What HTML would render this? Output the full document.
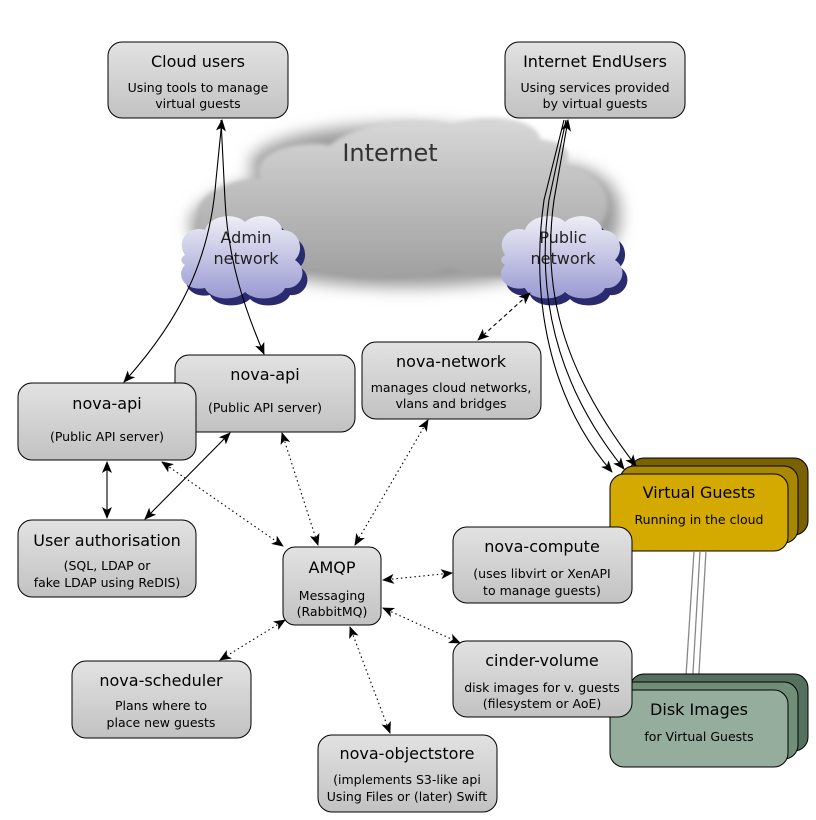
<!DOCTYPE html>
<html><head><meta charset="utf-8"><style>html,body{margin:0;padding:0;background:#fff}svg{display:block}</style></head><body>
<svg width="816" height="820" viewBox="0 0 816 820" xmlns="http://www.w3.org/2000/svg" font-family="'DejaVu Sans','Liberation Sans',sans-serif">
<defs>
<linearGradient id="g" x1="0" y1="0" x2="0" y2="1"><stop offset="0" stop-color="#e2e2e2"/><stop offset="1" stop-color="#c2c2c2"/></linearGradient>
<linearGradient id="inet" x1="0" y1="0" x2="0" y2="1"><stop offset="0" stop-color="#d8d8d8"/><stop offset="1" stop-color="#a0a0a0"/></linearGradient>
<linearGradient id="cl" x1="0" y1="0" x2="0" y2="1"><stop offset="0" stop-color="#eeeef6"/><stop offset="1" stop-color="#9a9ad2"/></linearGradient>
<filter id="blur" x="-20%" y="-30%" width="140%" height="160%"><feGaussianBlur stdDeviation="8"/></filter>
<filter id="blur2" x="-20%" y="-30%" width="140%" height="160%"><feGaussianBlur stdDeviation="2"/></filter>
<marker id="a" viewBox="0 0 12 10" refX="11" refY="5" markerWidth="12" markerHeight="10" markerUnits="userSpaceOnUse" orient="auto-start-reverse"><path d="M0,0 L12,5 L0,10 L3,5 z" fill="#000"/></marker>
</defs>

<!-- Internet cloud -->
<g filter="url(#blur)" fill="#999">
<ellipse cx="405" cy="225" rx="215" ry="62"/>
<ellipse cx="400" cy="165" rx="150" ry="40"/>
<ellipse cx="560" cy="210" rx="60" ry="45"/>
</g>
<path filter="url(#blur2)" fill="url(#inet)" d="M200,220 C190,195 230,180 260,178 C250,150 300,140 330,145 C360,120 420,115 450,125 C490,110 540,120 540,140 C560,140 575,150 565,165 C600,170 620,200 600,225 C620,245 590,265 560,262 C540,280 480,280 450,268 C420,280 350,282 320,270 C280,280 230,275 220,255 C195,250 190,235 200,220 Z"/>
<text x="390" y="161" font-size="24" fill="#333" text-anchor="middle">Internet</text>

<!-- Admin cloud -->
<path transform="translate(5,7)" fill="#2a2a6e" d="M185,255 C175,240 190,225 205,230 C210,215 235,212 245,222 C255,212 280,215 282,230 C300,230 305,250 295,260 C310,270 300,290 285,288 C280,300 255,302 245,292 C235,302 210,300 205,288 C185,292 175,275 185,265 C180,262 180,258 185,255 Z"/>
<path fill="url(#cl)" d="M185,255 C175,240 190,225 205,230 C210,215 235,212 245,222 C255,212 280,215 282,230 C300,230 305,250 295,260 C310,270 300,290 285,288 C280,300 255,302 245,292 C235,302 210,300 205,288 C185,292 175,275 185,265 C180,262 180,258 185,255 Z"/>
<text x="246" y="243" font-size="16" fill="#222" text-anchor="middle">Admin</text>
<text x="246" y="264" font-size="16" fill="#222" text-anchor="middle">network</text>

<!-- Public cloud -->
<path transform="translate(325,7)" fill="#2a2a6e" d="M185,255 C175,240 190,225 205,230 C210,215 235,212 245,222 C255,212 280,215 282,230 C300,230 305,250 295,260 C310,270 300,290 285,288 C280,300 255,302 245,292 C235,302 210,300 205,288 C185,292 175,275 185,265 C180,262 180,258 185,255 Z"/>
<path transform="translate(320,0)" fill="url(#cl)" d="M185,255 C175,240 190,225 205,230 C210,215 235,212 245,222 C255,212 280,215 282,230 C300,230 305,250 295,260 C310,270 300,290 285,288 C280,300 255,302 245,292 C235,302 210,300 205,288 C185,292 175,275 185,265 C180,262 180,258 185,255 Z"/>
<text x="563" y="243" font-size="16" fill="#222" text-anchor="middle">Public</text>
<text x="563" y="264" font-size="16" fill="#222" text-anchor="middle">network</text>

<!-- stacks -->
<rect x="630" y="458" width="178" height="77" rx="14" fill="#7a6200" stroke="#000"/>
<rect x="620" y="466" width="178" height="77" rx="14" fill="#a88800" stroke="#000"/>
<rect x="610" y="474" width="178" height="77" rx="14" fill="#d4aa00" stroke="#000"/>
<text x="699" y="498" font-size="16" text-anchor="middle">Virtual Guests</text>
<text x="699" y="524" font-size="12.5" text-anchor="middle">Running in the cloud</text>

<g stroke="#888" stroke-width="1.3" fill="none">
<path d="M694,551 L686,676"/><path d="M700,551 L692,690"/><path d="M706,551 L698,690"/>
</g>

<rect x="630" y="674" width="178" height="77" rx="14" fill="#55705e" stroke="#000"/>
<rect x="620" y="682" width="178" height="77" rx="14" fill="#6f8f79" stroke="#000"/>
<rect x="610" y="690" width="178" height="77" rx="14" fill="#94ad9c" stroke="#000"/>
<text x="699" y="715" font-size="16" text-anchor="middle">Disk Images</text>
<text x="699" y="741" font-size="12.5" text-anchor="middle">for Virtual Guests</text>

<!-- boxes -->
<g stroke="#000" fill="url(#g)">
<rect x="108" y="42" width="180" height="76" rx="14"/>
<rect x="505" y="42" width="180" height="76" rx="14"/>
<rect x="175" y="355" width="180" height="77" rx="14"/>
<rect x="18" y="383" width="178" height="77" rx="14"/>
<rect x="362" y="342" width="179" height="77" rx="14"/>
<rect x="18" y="520" width="178" height="77" rx="14"/>
<rect x="283" y="547" width="98" height="78" rx="12"/>
<rect x="453" y="527" width="179" height="76" rx="14"/>
<rect x="453" y="641" width="179" height="76" rx="14"/>
<rect x="72" y="661" width="179" height="77" rx="14"/>
<rect x="318" y="735" width="179" height="77" rx="14"/>
</g>
<g font-size="16" text-anchor="middle" fill="#000">
<text x="198" y="67">Cloud users</text>
<text x="595" y="67">Internet EndUsers</text>
<text x="265" y="380">nova-api</text>
<text x="107" y="409">nova-api</text>
<text x="451" y="367">nova-network</text>
<text x="107" y="546">User authorisation</text>
<text x="332" y="573">AMQP</text>
<text x="542" y="552">nova-compute</text>
<text x="542" y="666">cinder-volume</text>
<text x="161" y="686">nova-scheduler</text>
<text x="407" y="759">nova-objectstore</text>
</g>
<g font-size="12.5" text-anchor="middle" fill="#000">
<text x="198" y="92">Using tools to manage</text><text x="198" y="108">virtual guests</text>
<text x="595" y="92">Using services provided</text><text x="595" y="108">by virtual guests</text>
<text x="265" y="412">(Public API server)</text>
<text x="107" y="441">(Public API server)</text>
<text x="451" y="392">manages cloud networks,</text><text x="451" y="408">vlans and bridges</text>
<text x="107" y="570">(SQL, LDAP or</text><text x="107" y="587">fake LDAP using ReDIS)</text>
<text x="332" y="600">Messaging</text><text x="332" y="616">(RabbitMQ)</text>
<text x="542" y="578">(uses libvirt or XenAPI</text><text x="542" y="595">to manage guests)</text>
<text x="542" y="692">disk images for  v. guests</text><text x="542" y="708">(filesystem or AoE)</text>
<text x="161" y="710">Plans where to</text><text x="161" y="727">place new guests</text>
<text x="407" y="784">(implements S3-like api</text><text x="407" y="801">Using Files or (later) Swift</text>
</g>

<!-- connectors -->
<g stroke="#000" stroke-width="1.1" fill="none">
<path d="M222,120 L216,180 C210,260 180,320 124,382" marker-start="url(#a)" marker-end="url(#a)"/>
<path d="M221,120 L225,200 C228,260 245,310 264,354" marker-end="url(#a)"/>
<path d="M107,462 L107,518" marker-start="url(#a)" marker-end="url(#a)"/>
<path d="M145,519 L230,433" marker-start="url(#a)" marker-end="url(#a)"/>
<path d="M568,120 L554,200 C540,300 570,380 636,466" marker-start="url(#a)" marker-end="url(#a)"/>
<path d="M566,120 L549,200 C535,300 560,390 624,469" marker-end="url(#a)"/>
<path d="M564,120 L544,200 C530,300 550,400 612,472" marker-end="url(#a)"/>
</g>
<g stroke="#000" stroke-width="1.1" fill="none" stroke-dasharray="4,3">
<path d="M478,340 L530,293" marker-start="url(#a)" marker-end="url(#a)"/>
</g>
<g stroke="#000" stroke-width="1.1" fill="none" stroke-dasharray="1.5,3">
<path d="M162,462 L283,546" marker-start="url(#a)" marker-end="url(#a)"/>
<path d="M282,433 L318,545" marker-start="url(#a)" marker-end="url(#a)"/>
<path d="M428,420 L355,545" marker-start="url(#a)" marker-end="url(#a)"/>
<path d="M383,580 L452,573" marker-start="url(#a)" marker-end="url(#a)"/>
<path d="M383,608 L460,643" marker-start="url(#a)" marker-end="url(#a)"/>
<path d="M285,620 L220,660" marker-start="url(#a)" marker-end="url(#a)"/>
<path d="M350,627 L390,733" marker-start="url(#a)" marker-end="url(#a)"/>
</g>
</svg>
</body></html>
